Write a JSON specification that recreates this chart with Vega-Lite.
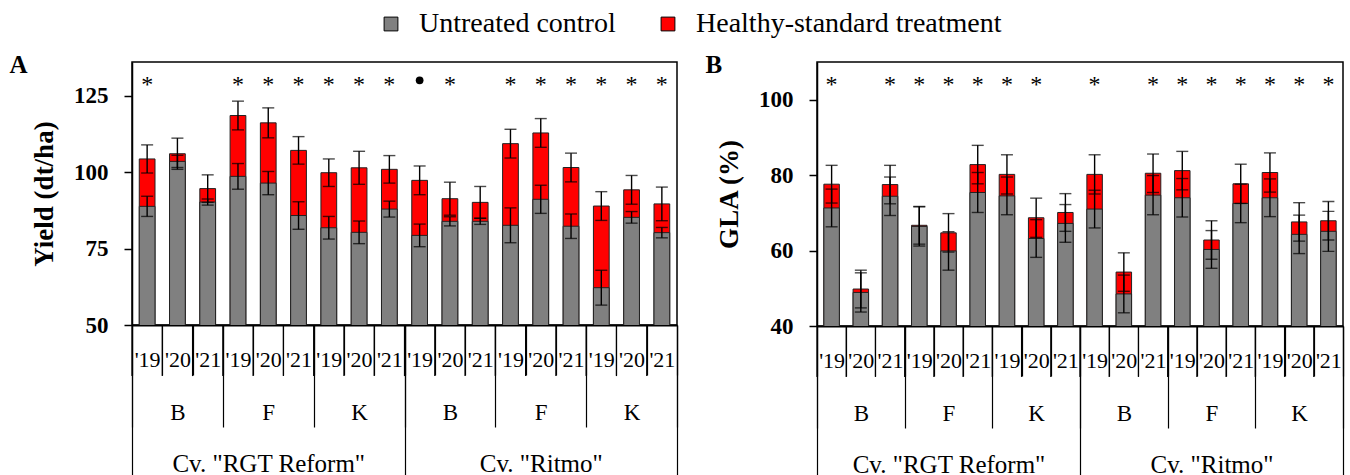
{
  "$schema": "https://vega.github.io/schema/vega-lite/v6.json",
  "padding": {"left": 8, "top": 10, "right": 5, "bottom": 0},
  "background": "white",
  "config": {
    "font": "Liberation Serif",
    "view": {"stroke": "black", "strokeWidth": 1.5},
    "concat": {"spacing": 25},
    "axis": {"grid": false, "domainColor": "black", "tickColor": "black", "labelColor": "black", "titleColor": "black", "labelFont": "Liberation Serif", "titleFont": "Liberation Serif", "labelLimit": 0},
    "axisY": {"tickSize": 8, "tickWidth": 1.5, "domainWidth": 1.5, "labelFontWeight": "bold", "labelFontSize": 23, "labelPadding": 16, "titleFontWeight": "bold", "titleFontSize": 27, "titlePadding": 15},
    "axisX": {"domainWidth": 2, "tickWidth": 1.2, "labelOverlap": false, "labelAngle": 0, "labelBaseline": "middle", "tickBand": "extent", "title": null},
    "legend": {"orient": "none", "legendX": 245, "legendY": -52, "direction": "horizontal", "title": null, "symbolType": "square", "symbolSize": 190, "symbolStrokeColor": "black", "symbolStrokeWidth": 1, "labelFontSize": 28, "labelFont": "Liberation Serif", "labelColor": "black", "labelLimit": 0, "columnPadding": 38, "labelOffset": 14},
    "title": {"fontSize": 25, "fontWeight": "bold", "font": "Liberation Serif", "anchor": "start", "frame": "bounds", "color": "black", "baseline": "bottom", "offset": -16}
  },
  "datasets": {
    "yield": [
      {"bar": "RGT Reform|B|'19", "site": "RGT Reform|B", "cultivar": "RGT Reform", "ctrl": 88.8, "ctrl_sd": 3.3, "trt": 104.3, "trt_sd": 4.6, "sig": "*"},
      {"bar": "RGT Reform|B|'20", "site": "RGT Reform|B", "cultivar": "RGT Reform", "ctrl": 103.5, "ctrl_sd": 2.0, "trt": 106.0, "trt_sd": 5.1, "sig": ""},
      {"bar": "RGT Reform|B|'21", "site": "RGT Reform|B", "cultivar": "RGT Reform", "ctrl": 90.2, "ctrl_sd": 1.0, "trt": 94.6, "trt_sd": 4.5, "sig": ""},
      {"bar": "RGT Reform|F|'19", "site": "RGT Reform|F", "cultivar": "RGT Reform", "ctrl": 98.6, "ctrl_sd": 4.2, "trt": 118.5, "trt_sd": 4.7, "sig": "*"},
      {"bar": "RGT Reform|F|'20", "site": "RGT Reform|F", "cultivar": "RGT Reform", "ctrl": 96.4, "ctrl_sd": 3.8, "trt": 116.1, "trt_sd": 4.9, "sig": "*"},
      {"bar": "RGT Reform|F|'21", "site": "RGT Reform|F", "cultivar": "RGT Reform", "ctrl": 85.8, "ctrl_sd": 4.5, "trt": 107.1, "trt_sd": 4.5, "sig": "*"},
      {"bar": "RGT Reform|K|'19", "site": "RGT Reform|K", "cultivar": "RGT Reform", "ctrl": 81.8, "ctrl_sd": 3.7, "trt": 99.8, "trt_sd": 4.5, "sig": "*"},
      {"bar": "RGT Reform|K|'20", "site": "RGT Reform|K", "cultivar": "RGT Reform", "ctrl": 80.3, "ctrl_sd": 3.7, "trt": 101.4, "trt_sd": 5.4, "sig": "*"},
      {"bar": "RGT Reform|K|'21", "site": "RGT Reform|K", "cultivar": "RGT Reform", "ctrl": 87.9, "ctrl_sd": 2.6, "trt": 100.9, "trt_sd": 4.5, "sig": "*"},
      {"bar": "Ritmo|B|'19", "site": "Ritmo|B", "cultivar": "Ritmo", "ctrl": 79.3, "ctrl_sd": 3.7, "trt": 97.3, "trt_sd": 4.7, "sig": "dot"},
      {"bar": "Ritmo|B|'20", "site": "Ritmo|B", "cultivar": "Ritmo", "ctrl": 83.9, "ctrl_sd": 1.5, "trt": 91.3, "trt_sd": 5.4, "sig": "*"},
      {"bar": "Ritmo|B|'21", "site": "Ritmo|B", "cultivar": "Ritmo", "ctrl": 83.9, "ctrl_sd": 1.0, "trt": 90.1, "trt_sd": 5.2, "sig": ""},
      {"bar": "Ritmo|F|'19", "site": "Ritmo|F", "cultivar": "Ritmo", "ctrl": 82.6, "ctrl_sd": 5.7, "trt": 109.3, "trt_sd": 4.7, "sig": "*"},
      {"bar": "Ritmo|F|'20", "site": "Ritmo|F", "cultivar": "Ritmo", "ctrl": 91.1, "ctrl_sd": 4.6, "trt": 112.8, "trt_sd": 4.7, "sig": "*"},
      {"bar": "Ritmo|F|'21", "site": "Ritmo|F", "cultivar": "Ritmo", "ctrl": 82.3, "ctrl_sd": 4.0, "trt": 101.5, "trt_sd": 4.7, "sig": "*"},
      {"bar": "Ritmo|K|'19", "site": "Ritmo|K", "cultivar": "Ritmo", "ctrl": 62.2, "ctrl_sd": 5.7, "trt": 88.9, "trt_sd": 4.7, "sig": "*"},
      {"bar": "Ritmo|K|'20", "site": "Ritmo|K", "cultivar": "Ritmo", "ctrl": 85.2, "ctrl_sd": 1.9, "trt": 94.2, "trt_sd": 4.7, "sig": "*"},
      {"bar": "Ritmo|K|'21", "site": "Ritmo|K", "cultivar": "Ritmo", "ctrl": 80.2, "ctrl_sd": 1.7, "trt": 89.6, "trt_sd": 5.5, "sig": "*"}
    ],
    "gla": [
      {"bar": "RGT Reform|B|'19", "site": "RGT Reform|B", "cultivar": "RGT Reform", "ctrl": 71.3, "ctrl_sd": 5.0, "trt": 77.6, "trt_sd": 5.0, "sig": "*"},
      {"bar": "RGT Reform|B|'20", "site": "RGT Reform|B", "cultivar": "RGT Reform", "ctrl": 48.9, "ctrl_sd": 5.2, "trt": 49.8, "trt_sd": 5.0, "sig": ""},
      {"bar": "RGT Reform|B|'21", "site": "RGT Reform|B", "cultivar": "RGT Reform", "ctrl": 74.4, "ctrl_sd": 5.1, "trt": 77.5, "trt_sd": 5.1, "sig": "*"},
      {"bar": "RGT Reform|F|'19", "site": "RGT Reform|F", "cultivar": "RGT Reform", "ctrl": 66.4, "ctrl_sd": 5.2, "trt": 66.7, "trt_sd": 5.0, "sig": "*"},
      {"bar": "RGT Reform|F|'20", "site": "RGT Reform|F", "cultivar": "RGT Reform", "ctrl": 59.9, "ctrl_sd": 5.1, "trt": 64.7, "trt_sd": 5.1, "sig": "*"},
      {"bar": "RGT Reform|F|'21", "site": "RGT Reform|F", "cultivar": "RGT Reform", "ctrl": 75.4, "ctrl_sd": 5.3, "trt": 82.8, "trt_sd": 5.1, "sig": "*"},
      {"bar": "RGT Reform|K|'19", "site": "RGT Reform|K", "cultivar": "RGT Reform", "ctrl": 74.5, "ctrl_sd": 5.0, "trt": 80.2, "trt_sd": 5.2, "sig": "*"},
      {"bar": "RGT Reform|K|'20", "site": "RGT Reform|K", "cultivar": "RGT Reform", "ctrl": 63.2, "ctrl_sd": 5.0, "trt": 68.7, "trt_sd": 5.2, "sig": "*"},
      {"bar": "RGT Reform|K|'21", "site": "RGT Reform|K", "cultivar": "RGT Reform", "ctrl": 67.2, "ctrl_sd": 5.0, "trt": 70.1, "trt_sd": 5.0, "sig": ""},
      {"bar": "Ritmo|B|'19", "site": "Ritmo|B", "cultivar": "Ritmo", "ctrl": 71.0, "ctrl_sd": 5.0, "trt": 80.2, "trt_sd": 5.2, "sig": "*"},
      {"bar": "Ritmo|B|'20", "site": "Ritmo|B", "cultivar": "Ritmo", "ctrl": 48.5, "ctrl_sd": 5.0, "trt": 54.3, "trt_sd": 5.1, "sig": ""},
      {"bar": "Ritmo|B|'21", "site": "Ritmo|B", "cultivar": "Ritmo", "ctrl": 74.7, "ctrl_sd": 5.2, "trt": 80.5, "trt_sd": 5.1, "sig": "*"},
      {"bar": "Ritmo|F|'19", "site": "Ritmo|F", "cultivar": "Ritmo", "ctrl": 74.0, "ctrl_sd": 5.1, "trt": 81.2, "trt_sd": 5.1, "sig": "*"},
      {"bar": "Ritmo|F|'20", "site": "Ritmo|F", "cultivar": "Ritmo", "ctrl": 60.3, "ctrl_sd": 5.0, "trt": 62.8, "trt_sd": 5.1, "sig": "*"},
      {"bar": "Ritmo|F|'21", "site": "Ritmo|F", "cultivar": "Ritmo", "ctrl": 72.5, "ctrl_sd": 5.1, "trt": 77.7, "trt_sd": 5.2, "sig": "*"},
      {"bar": "Ritmo|K|'19", "site": "Ritmo|K", "cultivar": "Ritmo", "ctrl": 74.0, "ctrl_sd": 5.0, "trt": 80.7, "trt_sd": 5.2, "sig": "*"},
      {"bar": "Ritmo|K|'20", "site": "Ritmo|K", "cultivar": "Ritmo", "ctrl": 64.3, "ctrl_sd": 5.1, "trt": 67.6, "trt_sd": 5.1, "sig": "*"},
      {"bar": "Ritmo|K|'21", "site": "Ritmo|K", "cultivar": "Ritmo", "ctrl": 65.1, "ctrl_sd": 5.3, "trt": 67.9, "trt_sd": 5.1, "sig": "*"}
    ]
  },
  "hconcat": [
    {
      "width": 545,
      "height": 263,
      "view": {"stroke": "black", "strokeWidth": 1.5},
      "title": {"text": "A", "dx": -21},
      "data": {"name": "yield"},
      "resolve": {"scale": {"x": "independent"}, "axis": {"x": "independent"}},
      "layer": [
        {
          "layer": [
            {
              "mark": {"type": "bar", "width": {"band": 0.52}, "stroke": "#222222", "strokeWidth": 1, "clip": true},
              "encoding": {
                "x": {"field": "bar", "type": "nominal", "scale": {"type": "band", "domain": ["RGT Reform|B|'19","RGT Reform|B|'20","RGT Reform|B|'21","RGT Reform|F|'19","RGT Reform|F|'20","RGT Reform|F|'21","RGT Reform|K|'19","RGT Reform|K|'20","RGT Reform|K|'21","Ritmo|B|'19","Ritmo|B|'20","Ritmo|B|'21","Ritmo|F|'19","Ritmo|F|'20","Ritmo|F|'21","Ritmo|K|'19","Ritmo|K|'20","Ritmo|K|'21"], "paddingInner": 0, "paddingOuter": 0},
                  "axis": {"orient": "bottom", "domain": true, "ticks": true, "tickSize": 50, "labelPadding": -16, "labelFontSize": 22, "labelExpr": "isValid(datum.value) ? split(datum.value,'|')[2] : ''"}},
                "y": {"field": "trt", "type": "quantitative", "title": "Yield (dt/ha)", "scale": {"domain": [50, 136], "zero": false, "nice": false}, "axis": {"values": [50, 75, 100, 125]}},
                "color": {"datum": "Healthy-standard treatment", "scale": {"domain": ["Untreated control", "Healthy-standard treatment"], "range": ["#808080", "#ff0000"]}}
              }
            },
            {
              "mark": {"type": "bar", "width": {"band": 0.52}, "stroke": "#222222", "strokeWidth": 1, "clip": true},
              "encoding": {
                "x": {"field": "bar", "type": "nominal"},
                "y": {"field": "ctrl", "type": "quantitative", "title": "Yield (dt/ha)"},
                "color": {"datum": "Untreated control"}
              }
            },
            {
              "mark": {"type": "errorbar", "ticks": {"size": 12, "color": "black"}, "color": "black", "thickness": 1.4},
              "encoding": {
                "x": {"field": "bar", "type": "nominal"},
                "y": {"field": "trt", "type": "quantitative", "title": "Yield (dt/ha)"},
                "yError": {"field": "trt_sd"}
              }
            },
            {
              "mark": {"type": "errorbar", "ticks": {"size": 12, "color": "black"}, "color": "black", "thickness": 1.4},
              "encoding": {
                "x": {"field": "bar", "type": "nominal"},
                "y": {"field": "ctrl", "type": "quantitative", "title": "Yield (dt/ha)"},
                "yError": {"field": "ctrl_sd"}
              }
            },
            {
              "mark": {"type": "rule", "color": "black", "strokeWidth": 1.2, "clip": false},
              "encoding": {
                "x": {"field": "bar", "type": "nominal", "bandPosition": 0},
                "y": {"datum": 50, "type": "quantitative", "title": "Yield (dt/ha)"},
                "y2": {"datum": 33.3}
              }
            },
            {
              "transform": [{"filter": "datum.sig == '*'"}],
              "mark": {"type": "text", "fontSize": 24, "baseline": "alphabetic", "dy": 12, "fill": "black"},
              "encoding": {
                "x": {"field": "bar", "type": "nominal"},
                "y": {"datum": 130, "type": "quantitative", "title": "Yield (dt/ha)"},
                "text": {"field": "sig"}
              }
            },
            {
              "transform": [{"filter": "datum.sig == 'dot'"}],
              "mark": {"type": "point", "filled": true, "shape": "circle", "size": 60, "fill": "black", "opacity": 1},
              "encoding": {
                "x": {"field": "bar", "type": "nominal"},
                "y": {"datum": 130, "type": "quantitative", "title": "Yield (dt/ha)"}
              }
            }
          ]
        },
        {
          "mark": {"type": "text", "opacity": 0},
          "encoding": {
            "x": {"field": "site", "type": "nominal", "scale": {"type": "band", "domain": ["RGT Reform|B","RGT Reform|F","RGT Reform|K","Ritmo|B","Ritmo|F","Ritmo|K"], "paddingInner": 0, "paddingOuter": 0},
              "axis": {"orient": "bottom", "domain": false, "ticks": true, "tickSize": 102, "labelPadding": -15, "labelFontSize": 23, "labelExpr": "isValid(datum.value) ? split(datum.value,'|')[1] : ''"}},
            "y": {"datum": 60, "type": "quantitative", "title": "Yield (dt/ha)"},
            "text": {"value": ""}
          }
        },
        {
          "mark": {"type": "text", "opacity": 0},
          "encoding": {
            "x": {"field": "cultivar", "type": "nominal", "scale": {"type": "band", "domain": ["RGT Reform", "Ritmo"], "paddingInner": 0, "paddingOuter": 0},
              "axis": {"orient": "bottom", "domain": false, "ticks": true, "tickSize": 150, "labelPadding": -12, "labelFontSize": 25, "labelExpr": "isValid(datum.value) ? 'Cv. \"' + datum.value + '\"' : ''"}},
            "y": {"datum": 60, "type": "quantitative", "title": "Yield (dt/ha)"},
            "text": {"value": ""}
          }
        }
      ]
    },
    {
      "width": 526,
      "height": 264,
      "view": {"stroke": "black", "strokeWidth": 1.5},
      "title": {"text": "B", "dx": -10},
      "data": {"name": "gla"},
      "resolve": {"scale": {"x": "independent"}, "axis": {"x": "independent"}},
      "layer": [
        {
          "layer": [
            {
              "mark": {"type": "bar", "width": {"band": 0.53}, "stroke": "#222222", "strokeWidth": 1, "clip": true},
              "encoding": {
                "x": {"field": "bar", "type": "nominal", "scale": {"type": "band", "domain": ["RGT Reform|B|'19","RGT Reform|B|'20","RGT Reform|B|'21","RGT Reform|F|'19","RGT Reform|F|'20","RGT Reform|F|'21","RGT Reform|K|'19","RGT Reform|K|'20","RGT Reform|K|'21","Ritmo|B|'19","Ritmo|B|'20","Ritmo|B|'21","Ritmo|F|'19","Ritmo|F|'20","Ritmo|F|'21","Ritmo|K|'19","Ritmo|K|'20","Ritmo|K|'21"], "paddingInner": 0, "paddingOuter": 0},
                  "axis": {"orient": "bottom", "domain": true, "ticks": true, "tickSize": 50, "labelPadding": -16, "labelFontSize": 22, "labelExpr": "isValid(datum.value) ? split(datum.value,'|')[2] : ''"}},
                "y": {"field": "trt", "type": "quantitative", "title": "GLA (%)", "scale": {"domain": [40, 110], "zero": false, "nice": false}, "axis": {"values": [40, 60, 80, 100]}},
                "color": {"datum": "Healthy-standard treatment"}
              }
            },
            {
              "mark": {"type": "bar", "width": {"band": 0.53}, "stroke": "#222222", "strokeWidth": 1, "clip": true},
              "encoding": {
                "x": {"field": "bar", "type": "nominal"},
                "y": {"field": "ctrl", "type": "quantitative", "title": "GLA (%)"},
                "color": {"datum": "Untreated control"}
              }
            },
            {
              "mark": {"type": "errorbar", "ticks": {"size": 12, "color": "black"}, "color": "black", "thickness": 1.4},
              "encoding": {
                "x": {"field": "bar", "type": "nominal"},
                "y": {"field": "trt", "type": "quantitative", "title": "GLA (%)"},
                "yError": {"field": "trt_sd"}
              }
            },
            {
              "mark": {"type": "errorbar", "ticks": {"size": 12, "color": "black"}, "color": "black", "thickness": 1.4},
              "encoding": {
                "x": {"field": "bar", "type": "nominal"},
                "y": {"field": "ctrl", "type": "quantitative", "title": "GLA (%)"},
                "yError": {"field": "ctrl_sd"}
              }
            },
            {
              "mark": {"type": "rule", "color": "black", "strokeWidth": 1.2, "clip": false},
              "encoding": {
                "x": {"field": "bar", "type": "nominal", "bandPosition": 0},
                "y": {"datum": 40, "type": "quantitative", "title": "GLA (%)"},
                "y2": {"datum": 26.5}
              }
            },
            {
              "transform": [{"filter": "datum.sig == '*'"}],
              "mark": {"type": "text", "fontSize": 24, "baseline": "alphabetic", "dy": 11, "fill": "black"},
              "encoding": {
                "x": {"field": "bar", "type": "nominal"},
                "y": {"datum": 105, "type": "quantitative", "title": "GLA (%)"},
                "text": {"field": "sig"}
              }
            }
          ]
        },
        {
          "mark": {"type": "text", "opacity": 0},
          "encoding": {
            "x": {"field": "site", "type": "nominal", "scale": {"type": "band", "domain": ["RGT Reform|B","RGT Reform|F","RGT Reform|K","Ritmo|B","Ritmo|F","Ritmo|K"], "paddingInner": 0, "paddingOuter": 0},
              "axis": {"orient": "bottom", "domain": false, "ticks": true, "tickSize": 102, "labelPadding": -15, "labelFontSize": 23, "labelExpr": "isValid(datum.value) ? split(datum.value,'|')[1] : ''"}},
            "y": {"datum": 50, "type": "quantitative", "title": "GLA (%)"},
            "text": {"value": ""}
          }
        },
        {
          "mark": {"type": "text", "opacity": 0},
          "encoding": {
            "x": {"field": "cultivar", "type": "nominal", "scale": {"type": "band", "domain": ["RGT Reform", "Ritmo"], "paddingInner": 0, "paddingOuter": 0},
              "axis": {"orient": "bottom", "domain": false, "ticks": true, "tickSize": 150, "labelPadding": -12, "labelFontSize": 25, "labelExpr": "isValid(datum.value) ? 'Cv. \"' + datum.value + '\"' : ''"}},
            "y": {"datum": 50, "type": "quantitative", "title": "GLA (%)"},
            "text": {"value": ""}
          }
        }
      ]
    }
  ]
}
